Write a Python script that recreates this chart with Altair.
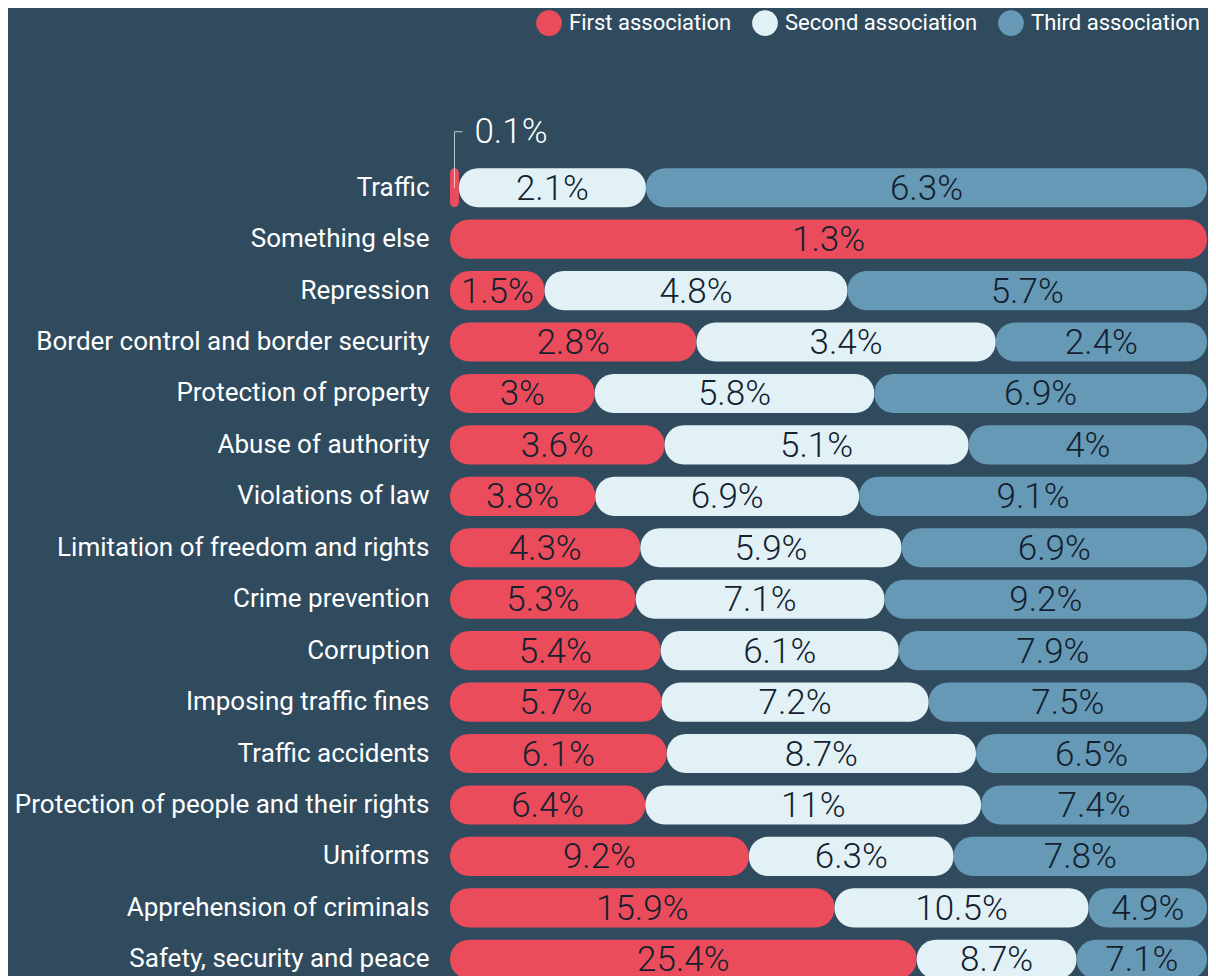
import altair as alt
import pandas as pd

categories = [
    "Traffic", "Something else", "Repression", "Border control and border security",
    "Protection of property", "Abuse of authority", "Violations of law",
    "Limitation of freedom and rights", "Crime prevention", "Corruption",
    "Imposing traffic fines", "Traffic accidents", "Protection of people and their rights",
    "Uniforms", "Apprehension of criminals", "Safety, security and peace",
]
series_names = ["First association", "Second association", "Third association"]
first = [0.1, 1.3, 1.5, 2.8, 3, 3.6, 3.8, 4.3, 5.3, 5.4, 5.7, 6.1, 6.4, 9.2, 15.9, 25.4]
second = [2.1, None, 4.8, 3.4, 5.8, 5.1, 6.9, 5.9, 7.1, 6.1, 7.2, 8.7, 11, 6.3, 10.5, 8.7]
third = [6.3, None, 5.7, 2.4, 6.9, 4, 9.1, 6.9, 9.2, 7.9, 7.5, 6.5, 7.4, 7.8, 4.9, 7.1]
colors = ["#ea4c5c", "#e1f1f6", "#6699b6"]

rows = []
for i, c in enumerate(categories):
    for k, vals in enumerate([first, second, third]):
        v = vals[i]
        if v is None:
            continue
        rows.append({"cat": c, "series": series_names[k], "order": k, "value": v,
                     "label": f"{v:g}%"})
df = pd.DataFrame(rows)

BG = "#304b5e"

base = alt.Chart(df).transform_stack(
    stack="value", groupby=["cat"], as_=["v0", "v1"], offset="normalize",
    sort=[alt.SortField("order", "ascending")],
).transform_calculate(mid="(datum.v0 + datum.v1) / 2")

y_enc = alt.Y("cat:N", sort=categories, title=None,
              scale=alt.Scale(paddingInner=0.24, paddingOuter=0.12),
              axis=alt.Axis(domain=False, ticks=False, labelFont="Roboto", labelFontSize=26,
                            labelColor="#ffffff", labelPadding=21, labelLimit=600))

bars = base.mark_bar(cornerRadius=19).encode(
    x=alt.X("v0:Q", axis=None, scale=alt.Scale(domain=[0, 1], nice=False)),
    x2="v1:Q",
    y=y_enc,
    color=alt.Color("series:N", sort=series_names,
                    scale=alt.Scale(domain=series_names, range=colors),
                    legend=alt.Legend(title=None, orient="none", direction="horizontal",
                                      legendX=86, legendY=-152, symbolType="circle",
                                      symbolSize=660, symbolStrokeWidth=0, symbolOpacity=1,
                                      labelFont="Roboto", labelFontSize=22, labelLimit=400,
                                      labelColor="#ffffff", labelOffset=7,
                                      columnPadding=20, padding=0)),
)

inner = base.transform_filter("datum.value >= 0.5").mark_text(
    font="Roboto", fontSize=35, fontWeight=300, color="#13212f", baseline="middle", dy=1
).encode(x="mid:Q", y=alt.Y("cat:N", sort=categories), text="label:N")

small = base.transform_filter("datum.value < 0.5")
lead_v = small.mark_tick(orient="vertical", size=56, thickness=1, yOffset=-28,
                         color="#ffffff").encode(x="mid:Q", y=alt.Y("cat:N", sort=categories))
lead_h = small.mark_tick(orient="horizontal", size=8, thickness=1, xOffset=4, yOffset=-56,
                         color="#ffffff").encode(x="mid:Q", y=alt.Y("cat:N", sort=categories))
outer = small.mark_text(font="Roboto", fontSize=35, fontWeight=300, color="#ffffff",
                        align="left", baseline="middle", dx=20, dy=-56).encode(
    x="mid:Q", y=alt.Y("cat:N", sort=categories), text="label:N")

chart = alt.layer(bars, inner, lead_v, lead_h, outer).properties(
    width=757, height=823,
    autosize=alt.AutoSizeParams(type="none"),
    padding={"left": 442, "top": 154, "right": 1, "bottom": 0},
).configure(background=BG).configure_view(stroke=None)

chart.save("out.html", embed_options={"renderer": "svg", "actions": False})
